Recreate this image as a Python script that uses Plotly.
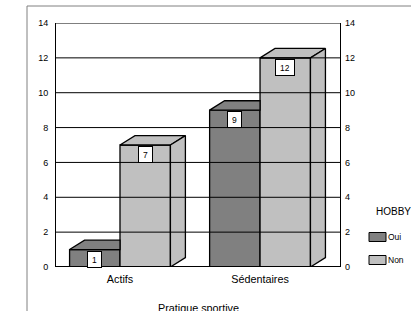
import plotly.graph_objects as go

# ---- data ----
categories = ["Actifs", "Sédentaires"]
series_names = ["Oui", "Non"]
oui_values = [1, 9]
non_values = [7, 12]
y_ticks = [0, 2, 4, 6, 8, 10, 12, 14]
legend_title = "HOBBY"
x_title = "Pratique sportive"

# ---- style ----
colors = {"Oui": "#808080", "Non": "#C0C0C0"}
FONT = "Liberation Sans, Arial, sans-serif"
W, H = 411, 311
ML, MR, MT, MB = 56, 71, 23, 44
plot_w = W - ML - MR
plot_h = H - MT - MB
x_range = [-0.457, 1.571]
y_range = [0, 14]
bw = 0.36          # bar width in category units
dx = 0.107         # depth offset (x units)
dy = 0.54          # depth offset (y units)

xs = list(range(len(categories)))
fig = go.Figure()

# front faces (bars)
fig.add_trace(go.Bar(x=xs, y=oui_values, width=bw, offset=-bw, name="Oui",
                     marker=dict(color=colors["Oui"], line=dict(color="black", width=1.3)),
                     showlegend=False, hoverinfo="skip"))
fig.add_trace(go.Bar(x=xs, y=non_values, width=bw, offset=0, name="Non",
                     marker=dict(color=colors["Non"], line=dict(color="black", width=1.3)),
                     showlegend=False, hoverinfo="skip"))

# 3D faces
def poly(pts):
    return [p[0] for p in pts] + [pts[0][0], None], [p[1] for p in pts] + [pts[0][1], None]

for i, (vo, vn) in enumerate(zip(oui_values, non_values)):
    # Oui top (the part behind the Non bar is hidden)
    px, py = poly([(i - bw, vo), (i, vo), (i, vo + dy), (i - bw + dx, vo + dy)])
    fig.add_trace(go.Scatter(x=px, y=py, mode="lines", fill="toself",
                             fillcolor=colors["Oui"], line=dict(color="black", width=1.3),
                             showlegend=False, hoverinfo="skip"))
    # Non top
    px, py = poly([(i, vn), (i + bw, vn), (i + bw + dx, vn + dy), (i + dx, vn + dy)])
    fig.add_trace(go.Scatter(x=px, y=py, mode="lines", fill="toself",
                             fillcolor=colors["Non"], line=dict(color="black", width=1.3),
                             showlegend=False, hoverinfo="skip"))
    # Non side
    px, py = poly([(i + bw, 0), (i + bw + dx, dy), (i + bw + dx, vn + dy), (i + bw, vn)])
    fig.add_trace(go.Scatter(x=px, y=py, mode="lines", fill="toself",
                             fillcolor=colors["Non"], line=dict(color="black", width=1.3),
                             showlegend=False, hoverinfo="skip"))

# dummy for right axis
fig.add_trace(go.Scatter(x=[None], y=[None], yaxis="y2", showlegend=False, hoverinfo="skip"))

shapes = []
# gridlines drawn above the bars
for t in y_ticks:
    shapes.append(dict(type="line", xref="paper", x0=0, x1=1, yref="y", y0=t, y1=t,
                       line=dict(color="black", width=2 if t == 0 else 1), layer="above"))

# outer frame
def px2x(p):
    return (p - ML) / plot_w

def py2y(p):
    return (H - MB - p) / plot_h

shapes.append(dict(type="rect", xref="paper", yref="paper", x0=px2x(27), x1=px2x(460),
                   y0=py2y(360), y1=py2y(6), line=dict(color="#808080", width=1),
                   fillcolor="rgba(0,0,0,0)", layer="below"))

annotations = []
# value labels
for i, (vo, vn) in enumerate(zip(oui_values, non_values)):
    for xc, v in [(i - bw / 2, vo), (i + bw / 2, vn)]:
        annotations.append(dict(x=xc, y=v, xref="x", yref="y", text=str(v), showarrow=False,
                                yanchor="top", yshift=-1, bgcolor="white", bordercolor="black",
                                borderwidth=1, borderpad=4, height=7,
                                font=dict(family=FONT, size=8.5, color="black")))

# axis title
annotations.append(dict(x=0.5, y=py2y(300), xref="paper", yref="paper", text=x_title,
                        showarrow=False, yanchor="top",
                        font=dict(family=FONT, size=10.8, color="black")))

# custom legend
annotations.append(dict(x=px2x(374), y=py2y(211), xref="paper", yref="paper", text=legend_title,
                        showarrow=False, xanchor="left", yanchor="middle",
                        font=dict(family=FONT, size=10, color="black")))
legend_y = [237, 260]
for name, ly in zip(series_names, legend_y):
    shapes.append(dict(type="rect", xref="paper", yref="paper", x0=px2x(369), x1=px2x(386),
                       y0=py2y(ly + 4.5), y1=py2y(ly - 4.5), fillcolor=colors[name],
                       line=dict(color="black", width=1)))
    annotations.append(dict(x=px2x(386), y=py2y(ly), xref="paper", yref="paper", text=name,
                            showarrow=False, xanchor="left", yanchor="middle",
                            font=dict(family=FONT, size=8.5, color="black")))

tickfont = dict(family=FONT, size=9, color="black")
fig.update_layout(
    width=W, height=H,
    margin=dict(l=ML, r=MR, t=MT, b=MB, pad=0),
    paper_bgcolor="white", plot_bgcolor="white",
    barmode="overlay",
    showlegend=False,
    font=dict(family=FONT, color="black"),
    xaxis=dict(range=x_range, tickvals=xs, ticktext=categories, showgrid=False,
               zeroline=False, showline=False, ticks="", fixedrange=True,
               ticklabelstandoff=4,
               tickfont=dict(family=FONT, size=10.8, color="black")),
    yaxis=dict(range=y_range, tickvals=y_ticks, showgrid=False, zeroline=False,
               showline=True, linecolor="black", linewidth=1, mirror=True,
               layer="above traces", ticks="", ticklabelstandoff=5, tickfont=tickfont),
    yaxis2=dict(range=y_range, tickvals=y_ticks, overlaying="y", side="right",
                showgrid=False, zeroline=False, showline=False, ticks="",
                ticklabelstandoff=4, tickfont=tickfont),
    shapes=shapes,
    annotations=annotations,
)

fig.write_html("out.html", config={"displayModeBar": False},
               post_script="document.body.style.margin='0';document.body.style.overflow='hidden';")
